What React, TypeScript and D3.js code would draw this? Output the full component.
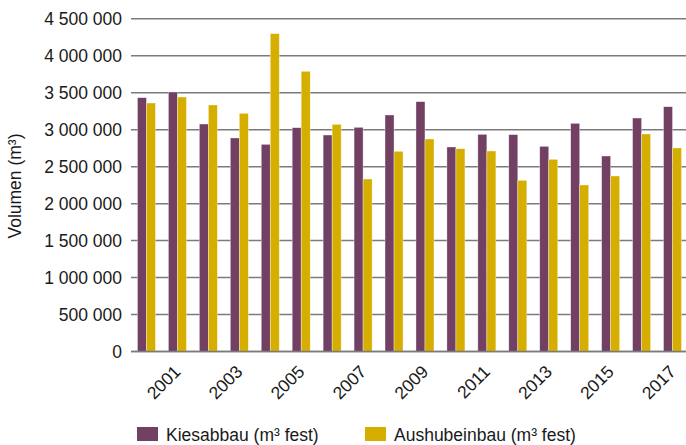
import React, {useEffect, useRef} from 'react';
import * as d3 from 'd3';

// values (m³)
const years = [
  '2000', '2001', '2002', '2003', '2004', '2005', '2006', '2007', '2008',
  '2009', '2010', '2011', '2012', '2013', '2014', '2015', '2016', '2017',
];
const kiesabbau = [
  3433000, 3510000, 3077000, 2888000, 2802000, 3027000, 2928000, 3032000,
  3199000, 3379000, 2766000, 2937000, 2933000, 2775000, 3086000, 2644000,
  3158000, 3311000,
];
const aushubeinbau = [
  3361000, 3442000, 3334000, 3222000, 4299000, 3790000, 3073000, 2333000,
  2708000, 2874000, 2743000, 2712000, 2315000, 2599000, 2252000, 2374000,
  2942000, 2753000,
];
const yTicks = [0, 500000, 1000000, 1500000, 2000000, 2500000, 3000000, 3500000, 4000000, 4500000];
const seriesNames = ['Kiesabbau (m³ fest)', 'Aushubeinbau (m³ fest)'];
const seriesColors = ['#714062', '#d5ae00'];

const W = 686;
const H = 445;
const FONT = '"Liberation Sans", Arial, sans-serif';
const FS = 17.5;

export default function App() {
  const svgRef = useRef<SVGSVGElement>(null);

  useEffect(() => {
    if (!svgRef.current) return;
    const svg = d3.select(svgRef.current);
    svg.selectAll('*').remove();

    const locale = d3.formatLocale({
      decimal: ',',
      thousands: ' ',
      grouping: [3],
      currency: ['', ''],
    });
    const fmt = locale.format(',');

    const x0 = d3
      .scaleBand<string>()
      .domain(years)
      .range([131, 688])
      .paddingInner(0.418)
      .paddingOuter(0.209);
    const x1 = d3
      .scaleBand<number>()
      .domain([0, 1])
      .range([0, x0.bandwidth()]);
    const y = d3.scaleLinear().domain([0, 4500000]).range([351.5, 18.8]);

    // gridlines
    svg
      .append('g')
      .selectAll('line')
      .data(yTicks)
      .join('line')
      .attr('x1', 131)
      .attr('x2', W)
      .attr('y1', (d) => y(d))
      .attr('y2', (d) => y(d))
      .attr('stroke', '#7b7b7b')
      .attr('stroke-width', 1.5);

    // y labels
    svg
      .append('g')
      .selectAll('text')
      .data(yTicks)
      .join('text')
      .attr('x', 122)
      .attr('y', (d) => y(d))
      .attr('dy', '0.35em')
      .attr('text-anchor', 'end')
      .style('font', `${FS}px ${FONT}`)
      .attr('fill', '#1a1a1a')
      .text((d) => fmt(d));

    // bars
    const rows = years.map((yr, i) => ({yr, vals: [kiesabbau[i], aushubeinbau[i]]}));
    const groups = svg
      .append('g')
      .selectAll('g')
      .data(rows)
      .join('g')
      .attr('transform', (d) => `translate(${x0(d.yr)},0)`);
    groups
      .selectAll('rect')
      .data((d) => d.vals.map((v, k) => ({v, k})))
      .join('rect')
      .attr('x', (d) => x1(d.k)!)
      .attr('width', x1.bandwidth())
      .attr('y', (d) => y(d.v))
      .attr('height', (d) => y(0) - y(d.v))
      .attr('fill', (d) => seriesColors[d.k])
      .attr('stroke', 'rgba(255,255,255,0.6)')
      .attr('stroke-width', 0.6);

    // zero line on top
    svg
      .append('line')
      .attr('x1', 131)
      .attr('x2', W)
      .attr('y1', y(0))
      .attr('y2', y(0))
      .attr('stroke', '#7b7b7b')
      .attr('stroke-width', 1.5);

    // x labels, every other year
    svg
      .append('g')
      .selectAll('text')
      .data(years.filter((_, i) => i % 2 === 1))
      .join('text')
      .attr(
        'transform',
        (d) => `translate(${x0(d)! + x0.bandwidth() / 2},${y(0) + 17}) rotate(-45)`,
      )
      .attr('dy', '0.35em')
      .attr('text-anchor', 'end')
      .style('font', `${FS}px ${FONT}`)
      .attr('fill', '#1a1a1a')
      .text((d) => d);

    // y axis title
    svg
      .append('text')
      .attr('transform', `translate(21,186) rotate(-90)`)
      .attr('text-anchor', 'middle')
      .style('font', `${FS}px ${FONT}`)
      .attr('fill', '#1a1a1a')
      .text('Volumen (m³)');

    // legend
    const legendX = [137, 365];
    const legend = svg
      .append('g')
      .selectAll('g')
      .data(seriesNames)
      .join('g')
      .attr('transform', (_, i) => `translate(${legendX[i]},427)`);
    legend
      .append('rect')
      .attr('width', 21)
      .attr('height', 14)
      .attr('fill', (_, i) => seriesColors[i]);
    legend
      .append('text')
      .attr('x', 29)
      .attr('y', 14)
      .style('font', `${FS}px ${FONT}`)
      .attr('fill', '#1a1a1a')
      .text((d) => d);
  }, []);

  return (
    <svg
      ref={svgRef}
      width={W}
      height={H}
      style={{position: 'absolute', left: 0, top: 0, background: 'white'}}
    />
  );
}
